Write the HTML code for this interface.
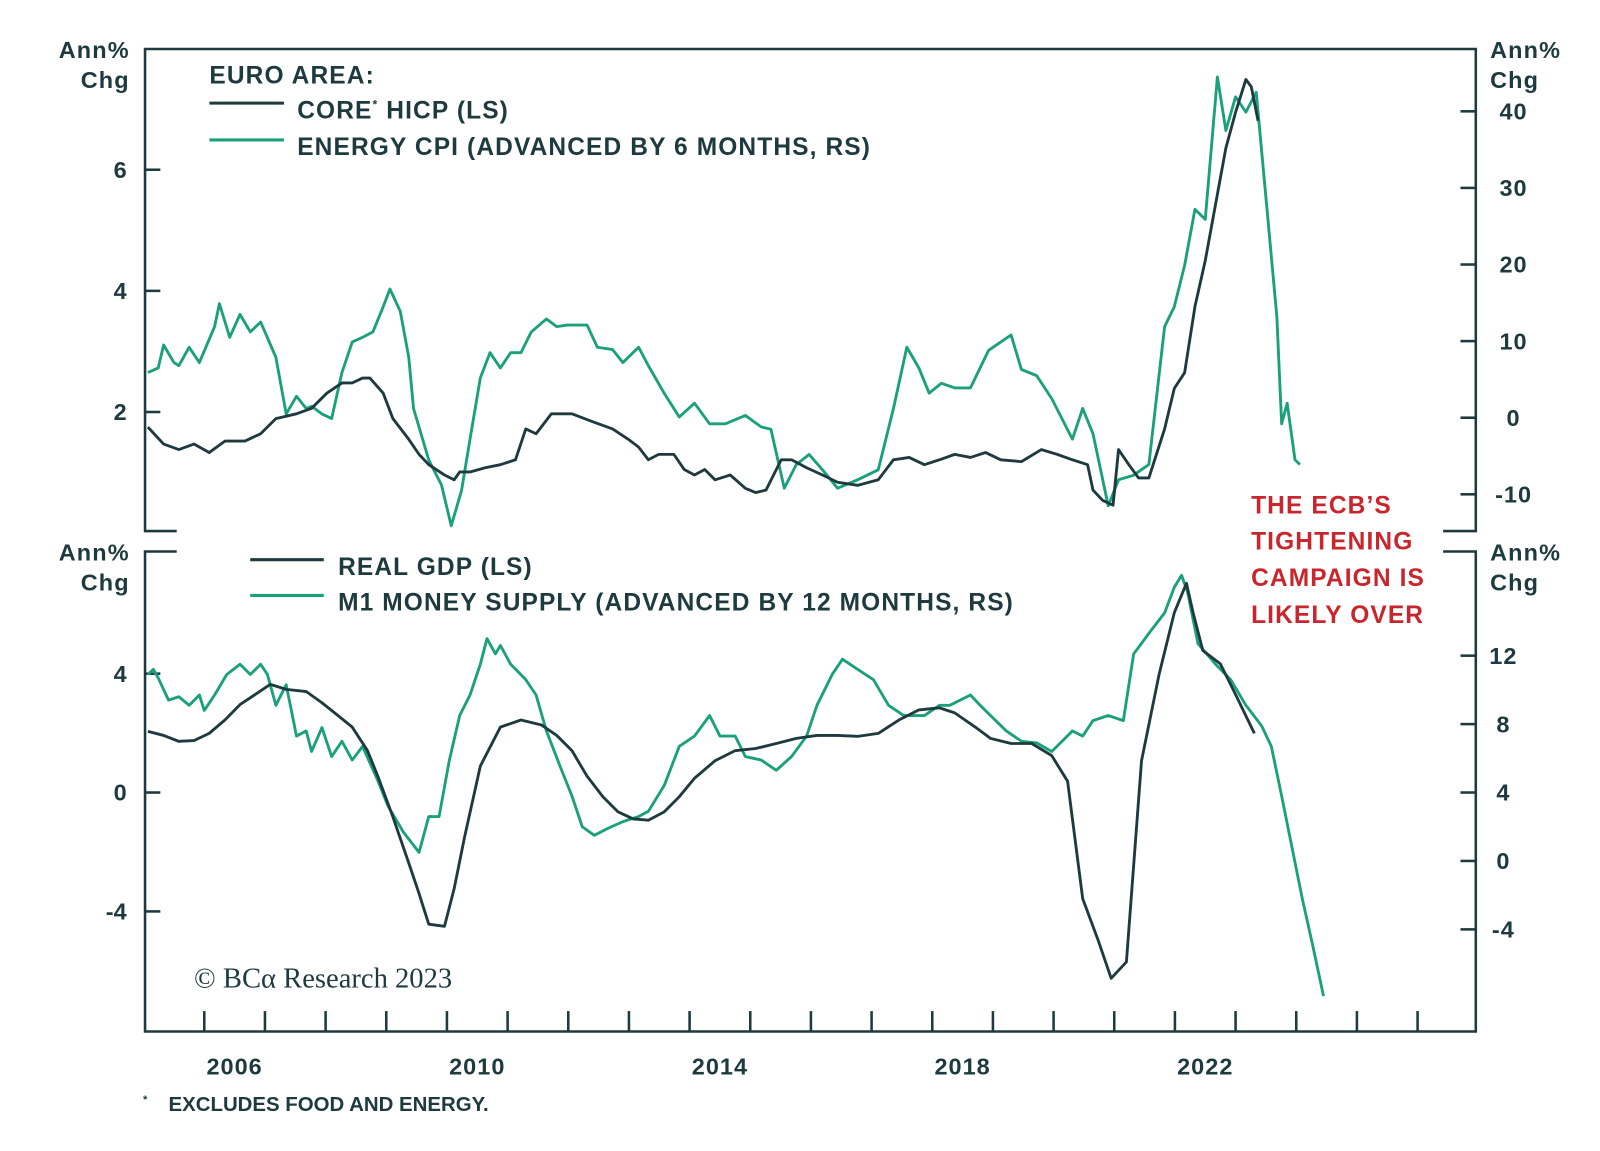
<!DOCTYPE html>
<html><head><meta charset="utf-8"><style>
html,body{margin:0;padding:0;background:#fff;}
svg{display:block;font-family:"Liberation Sans",sans-serif;}
.t{fill:#1d3a3f;font-weight:bold;}
.w{letter-spacing:1.1px;}
</style></head><body>
<svg id="chart" width="1600" height="1151" viewBox="0 0 1566.6 1127" xmlns="http://www.w3.org/2000/svg">
<g id="frame" stroke="#1d3a3f" stroke-width="2.5" fill="none">
<path d="M173 520 H142 V48 H1445 V520 H1413"/>
<path d="M173 540 H142 V1010 H1445 V540 H1413"/>
</g>
<g id="axes"></g>
<g id="series"></g>
<g class="t w" font-size="23" text-anchor="end"><text x="127" y="57">Ann%</text><text x="127" y="86">Chg</text></g>
<g class="t w" font-size="23" text-anchor="start"><text x="1459" y="57">Ann%</text><text x="1459" y="86">Chg</text></g>
<g class="t w" font-size="23" text-anchor="end"><text x="127" y="549">Ann%</text><text x="127" y="578">Chg</text></g>
<g class="t w" font-size="23" text-anchor="start"><text x="1459" y="549">Ann%</text><text x="1459" y="578">Chg</text></g>
<g class="t w" font-size="24">
<text x="205" y="82">EURO AREA:</text>
<line x1="205" y1="101" x2="278" y2="101" stroke="#1d3a3f" stroke-width="3"/>
<text x="291" y="116">CORE<tspan font-size="12" dy="-10">*</tspan><tspan dy="10"> HICP (LS)</tspan></text>
<line x1="205" y1="137" x2="278" y2="137" stroke="#1aa07a" stroke-width="3"/>
<text x="291" y="152">ENERGY CPI (ADVANCED BY 6 MONTHS, RS)</text>
</g>
<g class="t w" font-size="24">
<line x1="245" y1="548" x2="317" y2="548" stroke="#1d3a3f" stroke-width="3"/>
<text x="331" y="563">REAL GDP (LS)</text>
<line x1="245" y1="583" x2="317" y2="583" stroke="#1aa07a" stroke-width="3"/>
<text x="331" y="598">M1 MONEY SUPPLY (ADVANCED BY 12 MONTHS, RS)</text>
</g>
<g fill="#c8262c" font-size="24" font-weight="bold" class="w">
<text x="1225" y="503">THE ECB’S</text><text x="1225" y="538">TIGHTENING</text><text x="1225" y="574">CAMPAIGN IS</text><text x="1225" y="610">LIKELY OVER</text>
</g>
<text x="190" y="967" font-family="'Liberation Serif',serif" font-size="28" fill="#1d3a3f">© BCα Research 2023</text>
<text class="t" font-size="20" x="140" y="1088"><tspan font-size="11" dy="-8">*</tspan><tspan x="165" dy="8">EXCLUDES FOOD AND ENERGY.</tspan></text>
</svg>
<script>
const coreX=[2005.07,2005.33,2005.58,2005.83,2006.08,2006.34,2006.67,2006.93,2007.18,2007.52,2007.77,2008.02,2008.27,2008.44,2008.61,2008.73,2008.95,2009.11,2009.37,2009.54,2009.70,2009.96,2010.12,2010.21,2010.38,2010.63,2010.88,2011.13,2011.30,2011.47,2011.72,2012.06,2012.40,2012.73,2012.99,2013.16,2013.32,2013.49,2013.74,2013.91,2014.08,2014.25,2014.42,2014.67,2014.92,2015.09,2015.26,2015.51,2015.68,2015.93,2016.19,2016.44,2016.77,2017.11,2017.36,2017.62,2017.87,2018.12,2018.37,2018.63,2018.88,2019.13,2019.47,2019.80,2020.06,2020.31,2020.56,2020.65,2020.81,2020.98,2021.07,2021.24,2021.40,2021.57,2021.83,2021.99,2022.16,2022.33,2022.50,2022.67,2022.84,2023.00,2023.17,2023.26,2023.37];
const coreY=[1.75,1.47,1.38,1.47,1.33,1.52,1.52,1.64,1.89,1.97,2.06,2.31,2.48,2.48,2.56,2.56,2.31,1.89,1.55,1.30,1.13,0.96,0.88,1.01,1.01,1.08,1.13,1.21,1.72,1.64,1.97,1.97,1.84,1.72,1.55,1.42,1.21,1.30,1.30,1.05,0.96,1.05,0.88,0.96,0.74,0.67,0.71,1.21,1.21,1.08,0.96,0.84,0.79,0.88,1.21,1.25,1.13,1.21,1.30,1.25,1.33,1.21,1.18,1.38,1.30,1.21,1.13,0.71,0.54,0.46,1.38,1.13,0.91,0.91,1.72,2.39,2.65,3.74,4.50,5.43,6.36,6.95,7.49,7.37,6.81];
const energyX=[2005.07,2005.24,2005.33,2005.50,2005.58,2005.75,2005.92,2006.17,2006.25,2006.42,2006.59,2006.76,2006.93,2007.18,2007.35,2007.52,2007.68,2007.77,2007.94,2008.10,2008.27,2008.44,2008.61,2008.78,2008.95,2009.06,2009.23,2009.37,2009.45,2009.70,2009.91,2010.07,2010.24,2010.38,2010.55,2010.71,2010.88,2011.05,2011.22,2011.39,2011.64,2011.81,2011.98,2012.31,2012.48,2012.73,2012.90,2013.16,2013.32,2013.58,2013.83,2014.08,2014.33,2014.59,2014.92,2015.18,2015.34,2015.56,2015.76,2015.97,2016.19,2016.44,2016.77,2017.11,2017.36,2017.58,2017.78,2017.95,2018.15,2018.37,2018.63,2018.93,2019.30,2019.47,2019.72,2019.97,2020.31,2020.48,2020.65,2020.90,2021.07,2021.32,2021.57,2021.83,2021.99,2022.16,2022.33,2022.50,2022.70,2022.84,2023.00,2023.17,2023.34,2023.51,2023.68,2023.76,2023.85,2023.98,2024.06];
const energyY=[5.9,6.5,9.5,7.2,6.8,9.2,7.2,11.9,14.9,10.5,13.5,11.2,12.5,7.9,0.5,2.8,1.2,1.5,0.5,-0.1,5.9,9.9,10.5,11.2,14.5,16.8,13.9,7.9,1.2,-5.5,-8.8,-14.1,-9.5,-2.8,5.2,8.5,6.5,8.5,8.5,11.2,12.9,11.9,12.1,12.1,9.2,8.9,7.2,9.2,6.8,3.2,0.1,1.9,-0.8,-0.8,0.3,-1.2,-1.5,-9.2,-6.1,-4.8,-6.8,-9.2,-8.1,-6.8,1.2,9.2,6.5,3.2,4.5,3.9,3.9,8.8,10.8,6.3,5.5,2.5,-2.8,1.2,-2.1,-11.5,-8.1,-7.5,-6.1,11.9,14.5,19.9,27.2,25.9,44.5,37.5,41.9,39.9,42.5,27.9,13.2,-0.8,1.9,-5.5,-6.1];
const gdpX=[2005.07,2005.33,2005.58,2005.83,2006.08,2006.34,2006.59,2006.84,2007.09,2007.35,2007.68,2007.94,2008.19,2008.44,2008.69,2008.86,2009.11,2009.37,2009.54,2009.70,2009.96,2010.12,2010.29,2010.55,2010.88,2011.22,2011.56,2011.81,2012.06,2012.31,2012.57,2012.82,2013.07,2013.32,2013.58,2013.83,2014.08,2014.42,2014.75,2015.09,2015.43,2015.76,2016.10,2016.44,2016.77,2017.11,2017.45,2017.78,2018.12,2018.37,2018.71,2018.96,2019.30,2019.64,2019.97,2020.23,2020.48,2020.73,2020.95,2021.20,2021.45,2021.74,2021.99,2022.19,2022.30,2022.46,2022.75,2023.00,2023.31];
const gdpY=[2.06,1.92,1.72,1.75,1.99,2.44,2.96,3.30,3.64,3.47,3.40,3.02,2.61,2.20,1.41,0.55,-0.82,-2.37,-3.40,-4.43,-4.50,-3.23,-1.51,0.89,2.20,2.44,2.27,1.92,1.41,0.55,-0.14,-0.65,-0.89,-0.93,-0.65,-0.14,0.48,1.07,1.41,1.48,1.65,1.82,1.92,1.92,1.89,1.99,2.44,2.78,2.85,2.68,2.20,1.82,1.65,1.65,1.24,0.38,-3.57,-4.95,-6.25,-5.70,1.07,3.99,6.05,7.04,6.05,4.78,4.33,3.30,1.99];
const m1X=[2005.07,2005.16,2005.24,2005.41,2005.58,2005.75,2005.92,2006.00,2006.17,2006.37,2006.59,2006.76,2006.93,2007.04,2007.18,2007.35,2007.52,2007.68,2007.77,2007.94,2008.10,2008.27,2008.44,2008.61,2008.86,2009.03,2009.28,2009.54,2009.70,2009.87,2010.04,2010.21,2010.38,2010.55,2010.66,2010.80,2010.88,2011.05,2011.30,2011.47,2011.64,2011.89,2012.06,2012.23,2012.43,2012.65,2012.90,2013.16,2013.32,2013.58,2013.83,2014.08,2014.33,2014.50,2014.75,2014.92,2015.18,2015.43,2015.68,2015.93,2016.10,2016.35,2016.52,2016.77,2017.03,2017.28,2017.53,2017.87,2018.12,2018.29,2018.63,2018.79,2018.96,2019.22,2019.47,2019.72,2019.97,2020.14,2020.31,2020.48,2020.65,2020.90,2021.15,2021.32,2021.57,2021.83,2021.99,2022.11,2022.21,2022.38,2022.67,2022.92,2023.17,2023.43,2023.59,2023.76,2023.93,2024.10,2024.27,2024.45];
const m1Y=[10.9,11.2,10.7,9.4,9.6,9.1,9.7,8.8,9.7,10.9,11.5,10.9,11.5,10.9,9.1,10.3,7.3,7.6,6.4,7.8,6.1,7.0,5.9,6.7,4.7,3.2,1.7,0.5,2.6,2.6,5.9,8.5,9.7,11.5,13.0,12.1,12.6,11.5,10.6,9.7,7.6,5.3,3.8,2.0,1.5,1.9,2.3,2.6,2.9,4.4,6.7,7.3,8.5,7.3,7.3,6.1,5.9,5.3,6.1,7.3,9.1,10.9,11.8,11.2,10.6,9.1,8.5,8.5,9.1,9.1,9.7,9.1,8.5,7.6,7.0,6.9,6.4,7.0,7.6,7.3,8.2,8.5,8.2,12.1,13.3,14.5,16.0,16.7,15.7,12.7,11.5,10.6,9.1,7.9,6.7,3.8,0.8,-2.2,-4.9,-7.9];
const topLeftTicks=[2,4,6];
const topRightTicks=[-10,0,10,20,30,40];
const botLeftTicks=[-4,0,4];
const botRightTicks=[-4,0,4,8,12];
const yearLabels=[2006,2010,2014,2018,2022];
const yearTicks=[2006,2007,2008,2009,2010,2011,2012,2013,2014,2015,2016,2017,2018,2019,2020,2021,2022,2023,2024,2025,2026];

const NS="http://www.w3.org/2000/svg";
const xS=t=>200+(t-2006)*59.4;
const yTL=v=>522-v*59.3;
const yTR=v=>409-v*7.5;
const yBL=v=>776-v*29.1;
const yBR=v=>843-v*16.75;
const axes=document.getElementById('axes');
const ser=document.getElementById('series');
function mk(tag,attrs,parent){const e=document.createElementNS(NS,tag);for(const k in attrs)e.setAttribute(k,attrs[k]);parent.appendChild(e);return e;}
const DK="#1d3a3f",GR="#1aa07a";
topLeftTicks.forEach(v=>{const y=yTL(v);
 const l=mk('line',{x1:142,x2:157,y1:y,y2:y,stroke:DK,'stroke-width':2.5},axes);
 
 
 const t=mk('text',{x:124,y:y+8,'text-anchor':'end','font-size':23,'font-weight':'bold',fill:DK},axes);t.textContent=v;
 
 });
topRightTicks.forEach(v=>{const y=yTR(v);
 const l=mk('line',{x1:1430,x2:1445,y1:y,y2:y,stroke:DK,'stroke-width':2.5},axes);
 
 
 const t=mk('text',{x:1482,y:y+8,'text-anchor':'middle','font-size':23,'font-weight':'bold',fill:DK,'letter-spacing':1},axes);t.textContent=v;
 
 });
botLeftTicks.forEach(v=>{const y=yBL(v);
 const l=mk('line',{x1:142,x2:157,y1:y,y2:y,stroke:DK,'stroke-width':2.5},axes);
 
 
 const t=mk('text',{x:124,y:y+8,'text-anchor':'end','font-size':23,'font-weight':'bold',fill:DK},axes);t.textContent=v;
 
 });
botRightTicks.forEach(v=>{const y=yBR(v);
 const l=mk('line',{x1:1430,x2:1445,y1:y,y2:y,stroke:DK,'stroke-width':2.5},axes);
 
 
 const t=mk('text',{x:1472,y:y+8,'text-anchor':'middle','font-size':23,'font-weight':'bold',fill:DK,'letter-spacing':1},axes);t.textContent=v;
 
 });
yearTicks.forEach(yr=>{const x=xS(yr);
 const l=mk('line',{x1:x,x2:x,y1:990,y2:1010,stroke:DK,'stroke-width':2.5},axes);
 
 });
yearLabels.forEach(yr=>{
 const t=mk('text',{x:xS(yr+0.5),y:1052,'text-anchor':'middle','font-size':23,'font-weight':'bold',fill:DK,'letter-spacing':1},axes);t.textContent=yr;
 
 });
function line(xs,ys,fy,color,name){
 const d=xs.map((t,i)=>(i?'L':'M')+xS(t).toFixed(1)+' '+fy(ys[i]).toFixed(1)).join(' ');
 const p=mk('path',{d:d,fill:'none',stroke:color,'stroke-width':2.8,'stroke-linejoin':'round'},ser);
 
 }
line(energyX,energyY,yTR,GR,'energy-cpi-line');
line(coreX,coreY,yTL,DK,'core-hicp-line');
line(m1X,m1Y,yBR,GR,'m1-money-supply-line');
line(gdpX,gdpY,yBL,DK,'real-gdp-line');
</script>
</body></html>
